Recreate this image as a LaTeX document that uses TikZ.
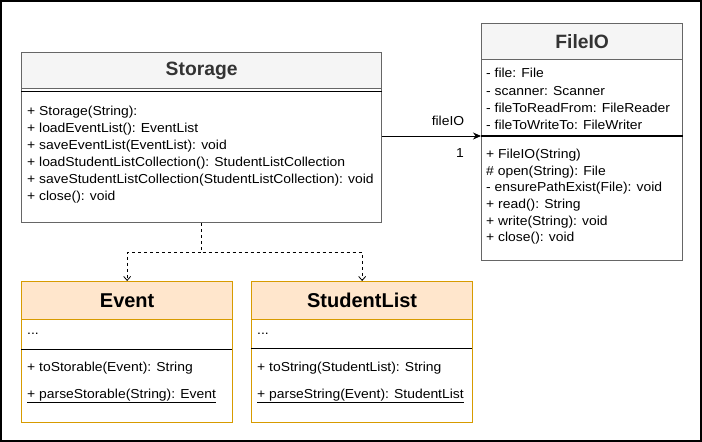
\documentclass[tikz,border=0pt]{standalone}
\usepackage{fontspec}
\setmainfont{Liberation Sans}
\newfontfamily\bodyfont[FakeStretch=1.07]{Liberation Sans}
\usetikzlibrary{arrows.meta}
\definecolor{grayfill}{HTML}{F5F5F5}
\definecolor{grayline}{HTML}{666666}
\definecolor{graytext}{HTML}{333333}
\definecolor{orfill}{HTML}{FFE6CC}
\definecolor{orline}{HTML}{D79B00}
\tikzset{
  hdrgray/.style={draw=grayline, fill=grayfill, line width=1.3pt, anchor=north west, inner sep=0pt,
    font=\fontsize{19.3}{21}\selectfont\bfseries, text=graytext},
  bodygray/.style={draw=grayline, fill=white, line width=1.3pt, anchor=north west, inner sep=0pt},
  hdror/.style={draw=orline, fill=orfill, line width=1.3pt, anchor=north west, inner sep=0pt,
    font=\fontsize{20}{22}\selectfont\bfseries, text=black},
  bodyor/.style={draw=orline, fill=white, line width=1.3pt, anchor=north west, inner sep=0pt},
  txt/.style={anchor=west, inner sep=0pt, font=\bodyfont\fontsize{13}{15}\selectfont, text=black},
  septhick/.style={line width=1.6pt, black},
  septhin/.style={line width=0.8pt, black},
  assoc/.style={line width=0.9pt, -{Stealth[length=8pt,width=7pt]}},
  dep/.style={line width=0.8pt, dashed, dash pattern=on 3pt off 3pt, -{Straight Barb[length=4pt,width=7pt]}},
}
\begin{document}
\begin{tikzpicture}[x=1pt,y=-1pt]
\useasboundingbox (0,0) rectangle (702,442);
\draw[line width=2pt] (1,1) rectangle (701,441);

% Storage
\node[bodygray, minimum width=360pt, minimum height=134pt] (storage) at (21,88) {};
\node[hdrgray, minimum width=360pt, minimum height=36pt] (storageH) at (21,52) {Storage};
\draw[septhick] ([yshift=-3.5pt]storage.north west) -- ([yshift=-3.5pt]storage.north east);
\node[txt] (s1) at (27,112) {+ Storage(String):};
\node[txt] (s2) at (27,129) {+ loadEventList(): EventList};
\node[txt] (s3) at (27,146) {+ saveEventList(EventList): void};
\node[txt] (s4) at (27,163) {+ loadStudentListCollection(): StudentListCollection};
\node[txt] (s5) at (27,180) {+ saveStudentListCollection(StudentListCollection): void};
\node[txt] (s6) at (27,197) {+ close(): void};

% FileIO
\node[bodygray, minimum width=201pt, minimum height=201pt] (fileio) at (481,59) {};
\node[hdrgray, minimum width=201pt, minimum height=36pt] (fileioH) at (481,23) {FileIO};
\coordinate (fsep) at (481,136);
\draw[septhick] (fsep) -- (fsep -| fileio.east);
\node[txt] (f1) at (486,73) {- file: File};
\node[txt] (f2) at (486,91) {- scanner: Scanner};
\node[txt] (f3) at (486,108) {- fileToReadFrom: FileReader};
\node[txt] (f4) at (486,125) {- fileToWriteTo: FileWriter};
\node[txt] (f5) at (486,155) {+ FileIO(String)};
\node[txt] (f6) at (486,172) {\# open(String): File};
\node[txt] (f7) at (486,188) {- ensurePathExist(File): void};
\node[txt] (f8) at (486,205) {+ read(): String};
\node[txt] (f9) at (486,222) {+ write(String): void};
\node[txt] (f10) at (486,238) {+ close(): void};

% Event
\node[bodyor, minimum width=211pt, minimum height=103pt] (event) at (21,319) {};
\node[hdror, minimum width=211pt, minimum height=38pt] (eventH) at (21,281) {Event};
\draw[septhin] (21,349) -- (232,349);
\node[txt] (e1) at (27,334) {...};
\node[txt] (e2) at (27,368) {+ toStorable(Event): String};
\node[txt] (e3) at (27,396) {\underline{+ parseStorable(String): Event}};

% StudentList
\node[bodyor, minimum width=221pt, minimum height=103pt] (slist) at (251,319) {};
\node[hdror, minimum width=221pt, minimum height=38pt] (slistH) at (251,281) {StudentList};
\draw[septhin] (251,348) -- (472,348);
\node[txt] (l1) at (257,334) {...};
\node[txt] (l2) at (257,368) {+ toString(StudentList): String};
\node[txt] (l3) at (257,396) {\underline{+ parseString(Event): StudentList}};

% connectors
\draw[assoc] (storage.east |- fsep) -- (fsep);
\node[txt, anchor=center] (lblname) at (448,121) {fileIO};
\node[txt, anchor=center] (lblmult) at (460,153) {1};
\draw[dep] (storage.south) -- ++(0,29) -| (eventH.north);
\draw[dep] (storage.south) -- ++(0,29) -| (slistH.north);
\end{tikzpicture}
\end{document}
